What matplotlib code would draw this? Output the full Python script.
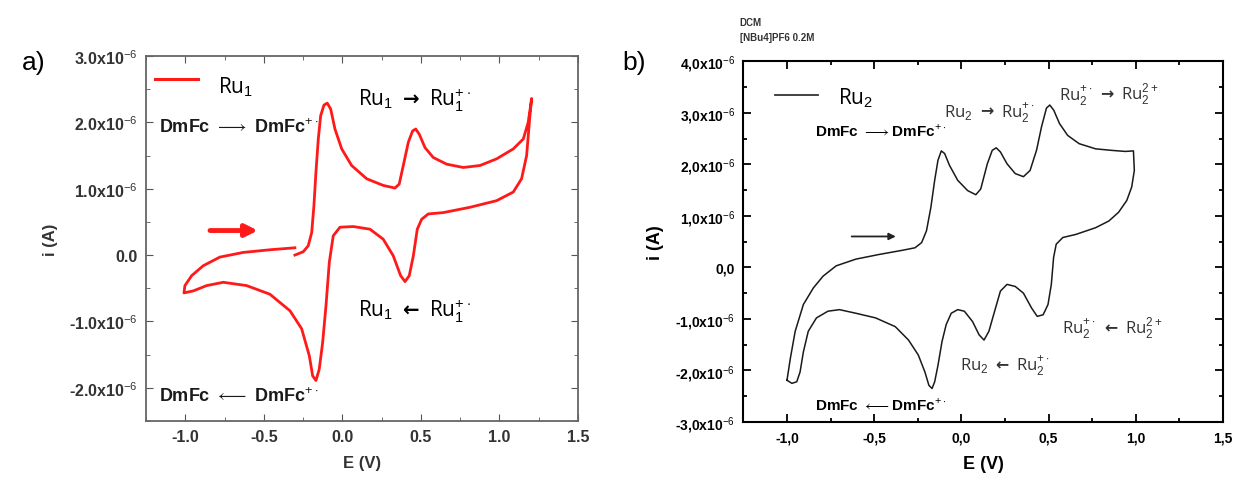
import matplotlib
matplotlib.use("Agg")
import matplotlib.pyplot as plt
from matplotlib.ticker import MultipleLocator
from matplotlib.offsetbox import TextArea, HPacker, AnnotationBbox

plt.rcParams['font.family'] = ['Liberation Sans', 'DejaVu Sans']
plt.rcParams['mathtext.fontset'] = 'custom'
plt.rcParams['mathtext.rm'] = 'Liberation Sans'
plt.rcParams['mathtext.bf'] = 'Liberation Sans:bold'

# Ru1 cyclic voltammogram (E in V, i in uA)
E1 = [-0.302, -0.249, -0.217, -0.195, -0.181, -0.168, -0.153, -0.138, -0.117, -0.096, -0.074,
      -0.047, -0.004, 0.059, 0.155, 0.26, 0.335, 0.362, 0.388, 0.42, 0.447, 0.467, 0.49, 0.526,
      0.579, 0.664, 0.77, 0.876, 0.982, 1.088, 1.152, 1.183, 1.205,
      1.194, 1.173, 1.141, 1.088, 0.982, 0.812, 0.642, 0.547, 0.505, 0.477, 0.452, 0.426, 0.399,
      0.371, 0.324, 0.26, 0.176, 0.07, -0.015, -0.058, -0.083, -0.104, -0.125, -0.147, -0.168,
      -0.189, -0.21, -0.259, -0.333, -0.461, -0.609, -0.758, -0.864, -0.949, -1.008,
      -1.002, -0.959, -0.885, -0.779, -0.631, -0.461, -0.302]
I1 = [0.0, 0.05, 0.14, 0.34, 0.74, 1.25, 1.75, 2.10, 2.26, 2.29, 2.20,
      1.90, 1.60, 1.35, 1.15, 1.05, 1.01, 1.07, 1.35, 1.70, 1.87, 1.90, 1.82, 1.62,
      1.47, 1.37, 1.32, 1.35, 1.45, 1.60, 1.75, 2.00, 2.36,
      2.10, 1.50, 1.15, 0.95, 0.82, 0.72, 0.64, 0.62, 0.54, 0.39, -0.01, -0.31, -0.40,
      -0.31, -0.01, 0.24, 0.39, 0.43, 0.42, 0.29, -0.11, -0.76, -1.31, -1.72, -1.89,
      -1.82, -1.52, -1.11, -0.84, -0.59, -0.46, -0.41, -0.46, -0.54, -0.57,
      -0.46, -0.31, -0.16, -0.03, 0.04, 0.08, 0.11]

# Ru2 cyclic voltammogram (E in V, i in uA)
E2 = [-1.0, -0.981, -0.953, -0.906, -0.849, -0.793, -0.718, -0.605, -0.473, -0.341, -0.266,
      -0.228, -0.2, -0.175, -0.153, -0.134, -0.115, -0.096, -0.068, -0.021, 0.036, 0.083, 0.111,
      0.149, 0.177, 0.2, 0.224, 0.262, 0.309, 0.356, 0.394, 0.431, 0.46, 0.488, 0.507, 0.53,
      0.563, 0.61, 0.676, 0.77, 0.864, 0.94, 0.987,
      0.992, 0.977, 0.949, 0.902, 0.846, 0.77, 0.657, 0.582, 0.544, 0.529, 0.516, 0.497, 0.469,
      0.435, 0.403, 0.356, 0.309, 0.262, 0.224, 0.19, 0.158, 0.13, 0.102, 0.064, 0.017, -0.021,
      -0.058, -0.087, -0.111, -0.134, -0.153, -0.168, -0.186, -0.209, -0.247, -0.303, -0.379,
      -0.492, -0.605, -0.699, -0.765, -0.831, -0.878, -0.906, -0.925, -0.944, -0.972, -1.0]
I2 = [-2.19, -1.77, -1.24, -0.72, -0.40, -0.17, 0.03, 0.16, 0.25, 0.33, 0.38,
      0.48, 0.71, 1.16, 1.69, 2.08, 2.26, 2.21, 1.98, 1.69, 1.49, 1.41, 1.52,
      2.01, 2.27, 2.32, 2.24, 2.01, 1.82, 1.76, 1.88, 2.27, 2.73, 3.09, 3.15, 3.05,
      2.79, 2.56, 2.40, 2.30, 2.27, 2.25, 2.26,
      1.88, 1.56, 1.30, 1.07, 0.90, 0.77, 0.64, 0.58, 0.45, 0.19, -0.33, -0.72, -0.92,
      -0.95, -0.79, -0.50, -0.37, -0.33, -0.46, -0.86, -1.24, -1.41, -1.31, -1.05, -0.85, -0.82,
      -0.89, -1.11, -1.44, -1.90, -2.22, -2.35, -2.29, -2.03, -1.70, -1.41, -1.15,
      -0.98, -0.89, -0.82, -0.85, -0.98, -1.24, -1.64, -2.03, -2.22, -2.25, -2.19]

xticks = [-1.0, -0.5, 0.0, 0.5, 1.0, 1.5]
yticks_a = [-2.0, -1.0, 0.0, 1.0, 2.0, 3.0]
yticks_b = [-3.0, -2.0, -1.0, 0.0, 1.0, 2.0, 3.0, 4.0]

calibri = 'Open Sans'


def ylab(v, sep):
    s = ("%.1f" % v).replace('.', sep)
    if abs(v) < 1e-9:
        return s
    return s + r"x10$^{-6}$"


def redox(ax, x, y, left, arrow, right, size, color='black'):
    # "species  arrow  species" label, arrow glyph taken from DejaVu Sans
    parts = [TextArea(left, textprops=dict(fontsize=size, family=calibri, color=color)),
             TextArea(arrow, textprops=dict(fontsize=size * 0.95, family='DejaVu Sans',
                                            fontweight='bold', color=color)),
             TextArea(right, textprops=dict(fontsize=size, family=calibri, color=color))]
    box = HPacker(children=parts, pad=0, sep=size * 0.45, align='baseline')
    ab = AnnotationBbox(box, (x, y), xycoords='data', box_alignment=(0, 0.5),
                        frameon=False, pad=0)
    ax.add_artist(ab)


fig = plt.figure(figsize=(12.39, 4.81), dpi=100)

# ---------- panel a ----------
ax1 = fig.add_axes([0.1178, 0.1227, 0.3487, 0.7588])
ax1.plot(E1, [v * 1e-6 for v in I1], color='#ff1a1a', lw=2.0, solid_joinstyle='round')
ax1.set_xlim(-1.25, 1.5)
ax1.set_ylim(-2.5e-6, 3.0e-6)
ax1.set_xticks(xticks)
ax1.set_yticks([v * 1e-6 for v in yticks_a])
ax1.xaxis.set_minor_locator(MultipleLocator(0.25))
ax1.yaxis.set_minor_locator(MultipleLocator(0.5e-6))
ax1.set_xticklabels(["%.1f" % v for v in xticks])
ax1.set_yticklabels([ylab(v, '.') for v in yticks_a])
ax1.tick_params(which='both', direction='in', top=True, right=True, color='#555555')
ax1.tick_params(which='major', length=5, labelsize=11.5, labelcolor='#333333', pad=6)
ax1.tick_params(which='minor', length=3)
for lbl in ax1.get_xticklabels() + ax1.get_yticklabels():
    lbl.set_fontweight('bold')
for sp in ax1.spines.values():
    sp.set_color('#666666')
    sp.set_linewidth(1.3)
ax1.set_xlabel("E (V)", fontsize=12, fontweight='bold', color='#333333', labelpad=8)
ax1.set_ylabel("i (A)", fontsize=12, fontweight='bold', color='#333333', labelpad=8)

ax1.plot([-1.19, -0.92], [2.66e-6, 2.66e-6], color='#ff1a1a', lw=2.2)
ax1.text(-0.79, 2.55e-6, r"Ru$_1$", fontsize=15, family=calibri, va='center')
ax1.annotate("", xy=(-0.52, 0.37e-6), xytext=(-0.86, 0.37e-6),
             arrowprops=dict(arrowstyle='-|>', color='#ff1a1a', lw=3.5, mutation_scale=18))
redox(ax1, 0.10, 2.35e-6, r"Ru$_1$", "→", r"Ru$_1^{+\cdot}$", 15)
redox(ax1, 0.10, -0.83e-6, r"Ru$_1$", "←", r"Ru$_1^{+\cdot}$", 15)
ax1.text(-1.17, 1.93e-6, r"DmFc $\longrightarrow$ DmFc$^{+\cdot}$", fontsize=13, fontweight='bold',
         color='#1a1a1a', va='center')
ax1.text(-1.17, -2.12e-6, r"DmFc $\longleftarrow$ DmFc$^{+\cdot}$", fontsize=13, fontweight='bold',
         color='#1a1a1a', va='center')
fig.text(0.018, 0.87, "a)", fontsize=19, va='center')

# ---------- panel b ----------
ax2 = fig.add_axes([0.600, 0.1206, 0.387, 0.750])
ax2.plot(E2, [v * 1e-6 for v in I2], color='#1a1a1a', lw=1.1, solid_joinstyle='round')
ax2.set_xlim(-1.25, 1.5)
ax2.set_ylim(-3.0e-6, 4.0e-6)
ax2.set_xticks(xticks)
ax2.set_yticks([v * 1e-6 for v in yticks_b])
ax2.xaxis.set_minor_locator(MultipleLocator(0.25))
ax2.yaxis.set_minor_locator(MultipleLocator(0.5e-6))
ax2.set_xticklabels([("%.1f" % v).replace('.', ',') for v in xticks])
ax2.set_yticklabels([ylab(v, ',') for v in yticks_b])
ax2.tick_params(which='both', direction='in', top=True, right=True, width=1.3)
ax2.tick_params(which='major', length=6, labelsize=10, pad=6)
ax2.tick_params(which='minor', length=3)
for lbl in ax2.get_xticklabels() + ax2.get_yticklabels():
    lbl.set_fontweight('bold')
for sp in ax2.spines.values():
    sp.set_linewidth(1.5)
ax2.set_xlabel("E (V)", fontsize=13, fontweight='bold', labelpad=8)
ax2.set_ylabel("i (A)", fontsize=13, fontweight='bold', labelpad=8)

ax2.plot([-1.067, -0.82], [3.34e-6, 3.34e-6], color='#333333', lw=1.3)
ax2.text(-0.71, 3.30e-6, r"Ru$_2$", fontsize=15, family=calibri, va='center')
ax2.annotate("", xy=(-0.36, 0.60e-6), xytext=(-0.645, 0.60e-6),
             arrowprops=dict(arrowstyle='-|>', color='#222222', lw=1.3, mutation_scale=10))
redox(ax2, -0.10, 3.02e-6, r"Ru$_2$", "→", r"Ru$_2^{+\cdot}$", 12, '#333333')
redox(ax2, 0.56, 3.37e-6, r"Ru$_2^{+\cdot}$", "→", r"Ru$_2^{2+}$", 12, '#333333')
redox(ax2, 0.58, -1.16e-6, r"Ru$_2^{+\cdot}$", "←", r"Ru$_2^{2+}$", 12, '#333333')
redox(ax2, -0.01, -1.90e-6, r"Ru$_2$", "←", r"Ru$_2^{+\cdot}$", 12, '#333333')
ax2.text(-0.84, 2.66e-6, r"DmFc $\longrightarrow$DmFc$^{+\cdot}$", fontsize=11, fontweight='bold',
         va='center')
ax2.text(-0.84, -2.65e-6, r"DmFc $\longleftarrow$DmFc$^{+\cdot}$", fontsize=11, fontweight='bold',
         va='center')
fig.text(0.502, 0.87, "b)", fontsize=19, va='center')
fig.text(0.597, 0.952, "DCM", fontsize=7, fontweight='bold', color='#333333', va='center')
fig.text(0.597, 0.922, "[NBu4]PF6 0.2M", fontsize=7, fontweight='bold', color='#333333', va='center')

fig.savefig("out.png", dpi=100)
